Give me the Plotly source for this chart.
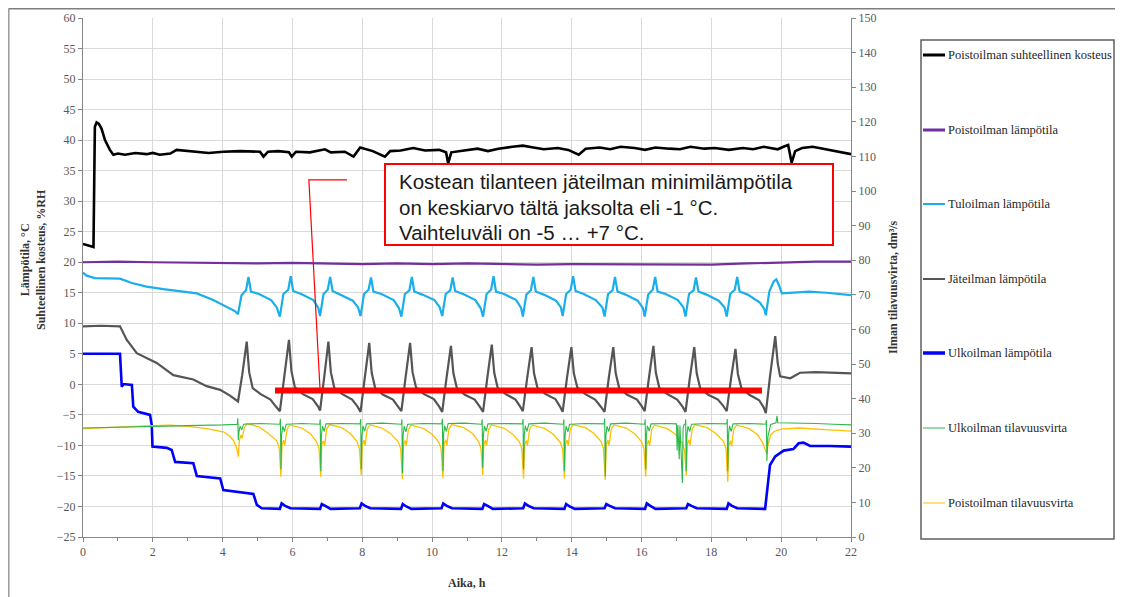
import plotly.graph_objects as go

# ---------------- DATA ----------------
x_range = [0, 22]
y_left_range = [-25, 60]
y_right_range = [0, 150]

names = [
    "Poistoilman suhteellinen kosteus",
    "Poistoilman lämpötila",
    "Tuloilman lämpötila",
    "Jäteilman lämpötila",
    "Ulkoilman lämpötila",
    "Ulkoilman tilavuusvirta",
    "Poistoilman tilavuusvirta",
]

# Poistoilman suhteellinen kosteus (%RH, left axis)
rh_t = [0, 0.30, 0.34, 0.39, 0.45, 0.53, 0.63, 0.77, 0.87, 1.0,
        1.2, 1.5, 1.82, 2.0, 2.2, 2.5, 2.68, 3.0, 3.3, 3.6,
        4.02, 4.5, 5.07, 5.17, 5.3, 5.6, 5.9, 5.98, 6.1, 6.5,
        6.93, 7.1, 7.5, 7.75, 7.94, 8.3, 8.65, 8.8, 9.1, 9.46,
        9.8, 10.2, 10.4, 10.46, 10.55, 10.9, 11.3, 11.6, 11.9, 12.3,
        12.6, 12.9, 13.2, 13.6, 13.9, 14.2, 14.4, 14.8, 15.1, 15.4,
        15.8, 16.1, 16.4, 16.8, 17.1, 17.4, 17.8, 18.1, 18.5, 18.9,
        19.2, 19.5, 19.9, 20.1, 20.2, 20.3, 20.4, 20.6, 20.9, 21.2,
        21.5, 21.8, 22.0]
rh_v = [23.0, 22.5, 42.2, 42.9, 42.7, 41.9, 40.0, 38.4, 37.6, 37.8,
        37.6, 37.9, 37.7, 37.9, 37.6, 37.8, 38.4, 38.2, 38.0, 37.9,
        38.1, 38.2, 38.1, 37.3, 38.1, 38.2, 38.0, 37.3, 38.1, 38.0,
        38.5, 38.0, 38.1, 37.3, 38.8, 38.2, 37.3, 38.2, 38.3, 38.7,
        38.3, 38.4, 38.0, 36.2, 38.0, 38.3, 38.6, 38.2, 38.6, 38.9,
        39.1, 38.8, 38.5, 38.7, 38.4, 37.6, 38.6, 38.8, 38.5, 38.9,
        38.7, 38.4, 38.8, 38.6, 38.5, 38.9, 38.6, 38.7, 38.4, 38.7,
        38.5, 38.9, 38.5, 39.0, 39.2, 36.3, 38.2, 38.7, 38.9, 38.6,
        38.3, 37.9, 37.7]

# Poistoilman lämpötila
exh_t = [0, 1, 2, 3, 4, 5, 6, 7, 8, 9, 10, 11, 12, 13, 14, 15, 16, 17, 18, 19, 20, 21, 22]
exh_v = [20.0, 20.1, 20.0, 19.9, 19.9, 19.8, 19.9, 19.8, 19.7, 19.8, 19.7, 19.8,
         19.7, 19.6, 19.7, 19.7, 19.6, 19.7, 19.6, 19.8, 20.0, 20.1, 20.1]

# Tuloilman lämpötila
sup_t = [0, 0.10, 0.34, 0.70, 1.06, 1.40, 1.82, 2.30, 2.78, 3.26, 3.73, 4.12, 4.35,
         4.44, 4.54, 4.67, 4.74, 4.81, 5.04, 5.39, 5.55,
         5.64, 5.74, 5.88, 5.95, 6.02, 6.25, 6.60, 6.74,
         6.79, 6.89, 7.01, 7.08, 7.15, 7.38, 7.73, 7.88,
         7.95, 8.05, 8.18, 8.25, 8.32, 8.55, 8.90, 9.05,
         9.12, 9.22, 9.35, 9.42, 9.49, 9.72, 10.07, 10.22,
         10.29, 10.39, 10.52, 10.59, 10.66, 10.89, 11.24, 11.39,
         11.46, 11.56, 11.69, 11.76, 11.83, 12.06, 12.41, 12.55,
         12.60, 12.70, 12.83, 12.90, 12.97, 13.20, 13.55, 13.69,
         13.74, 13.84, 13.97, 14.04, 14.11, 14.34, 14.69, 14.88,
         14.94, 15.04, 15.17, 15.24, 15.31, 15.54, 15.89, 16.04,
         16.09, 16.19, 16.32, 16.39, 16.46, 16.69, 17.04, 17.20,
         17.26, 17.36, 17.49, 17.56, 17.63, 17.86, 18.21, 18.38,
         18.44, 18.54, 18.67, 18.74, 18.81, 19.04, 19.39, 19.52,
         19.56, 19.66, 19.78, 19.86, 19.94, 20.02, 20.30, 20.80, 21.30, 21.70, 22.0]
sup_v = [18.3, 17.8, 17.4, 17.4, 17.3, 16.6, 16.0, 15.6, 15.2, 14.9, 13.8, 12.7, 12.0,
         11.5, 14.6, 15.4, 17.6, 15.2, 14.8, 13.8, 12.6,
         11.1, 14.8, 15.5, 17.7, 15.3, 14.8, 13.8, 12.5,
         11.2, 14.8, 15.5, 17.6, 15.3, 14.7, 13.7, 12.6,
         11.2, 14.8, 15.5, 17.5, 15.2, 14.8, 13.8, 12.5,
         11.1, 14.8, 15.4, 17.6, 15.2, 14.7, 13.8, 12.6,
         11.2, 14.8, 15.4, 17.5, 15.3, 14.8, 13.8, 12.5,
         11.1, 14.8, 15.5, 17.7, 15.2, 14.8, 13.8, 12.5,
         11.1, 14.7, 15.4, 17.6, 15.2, 14.7, 13.7, 12.6,
         11.2, 14.8, 15.5, 17.7, 15.3, 14.8, 13.8, 12.6,
         11.1, 14.8, 15.4, 17.6, 15.2, 14.7, 13.7, 12.5,
         11.1, 14.7, 15.5, 17.6, 15.2, 14.8, 13.8, 12.6,
         11.1, 14.8, 15.4, 17.5, 15.2, 14.7, 13.7, 12.6,
         11.1, 14.8, 15.5, 17.6, 15.2, 14.7, 13.4, 12.3,
         11.3, 15.2, 16.8, 17.2, 16.2, 14.9, 15.0, 15.2, 15.0, 14.8, 14.6]

# Jäteilman lämpötila
waste_t = [0, 0.5, 1.06, 1.25, 1.54, 1.82, 2.11, 2.59, 3.16, 3.54, 3.93, 4.20,
           4.44, 4.56, 4.69, 4.76, 4.86, 5.09, 5.37, 5.52,
           5.64, 5.76, 5.90, 5.97, 6.07, 6.30, 6.58, 6.73,
           6.79, 6.91, 7.03, 7.10, 7.20, 7.43, 7.71, 7.86,
           7.95, 8.07, 8.20, 8.27, 8.37, 8.60, 8.88, 9.03,
           9.12, 9.24, 9.37, 9.44, 9.54, 9.77, 10.05, 10.20,
           10.29, 10.41, 10.54, 10.61, 10.71, 10.94, 11.22, 11.37,
           11.46, 11.58, 11.71, 11.78, 11.88, 12.11, 12.39, 12.52,
           12.60, 12.72, 12.85, 12.92, 13.02, 13.25, 13.53, 13.66,
           13.74, 13.86, 13.99, 14.06, 14.16, 14.39, 14.67, 14.84,
           14.94, 15.06, 15.19, 15.26, 15.36, 15.59, 15.87, 16.01,
           16.09, 16.21, 16.34, 16.41, 16.51, 16.74, 17.02, 17.18,
           17.26, 17.38, 17.51, 17.58, 17.68, 17.91, 18.19, 18.35,
           18.44, 18.56, 18.69, 18.76, 18.86, 19.09, 19.37, 19.50,
           19.56, 19.68, 19.83, 19.90, 19.97, 20.26, 20.54, 21.0, 21.5, 22.0]
waste_v = [9.5, 9.6, 9.5, 7.3, 5.1, 4.3, 3.5, 1.5, 0.8, -0.3, -0.9, -1.8,
           -2.8, 1.5, 7.0, 2.0, -0.6, -1.6, -2.5, -3.6,
           -4.4, 1.0, 7.3, 2.2, -0.5, -1.6, -2.4, -3.6,
           -4.3, 1.2, 7.0, 2.0, -0.6, -1.6, -2.5, -3.6,
           -4.5, 1.0, 6.8, 1.9, -0.6, -1.7, -2.5, -3.7,
           -4.4, 1.1, 6.8, 2.0, -0.5, -1.6, -2.4, -3.6,
           -4.5, 0.9, 6.3, 1.8, -0.6, -1.7, -2.5, -3.7,
           -4.5, 1.0, 6.5, 1.9, -0.6, -1.6, -2.5, -3.6,
           -4.4, 0.9, 6.1, 1.8, -0.6, -1.6, -2.4, -3.6,
           -4.5, 0.9, 6.1, 1.8, -0.5, -1.6, -2.5, -3.7,
           -4.5, 1.0, 6.1, 1.8, -0.6, -1.7, -2.5, -3.6,
           -4.4, 1.0, 6.3, 1.9, -0.6, -1.6, -2.5, -3.7,
           -4.5, 0.9, 6.1, 1.8, -0.6, -1.7, -2.5, -3.6,
           -4.4, 0.8, 5.8, 1.7, -0.6, -1.7, -2.6, -3.8,
           -4.7, 1.3, 7.9, 3.5, 1.3, 1.0, 1.9, 2.0, 1.9, 1.8]

# Ulkoilman lämpötila
out_t = [0, 0.5, 1.06, 1.11, 1.16, 1.40, 1.44, 1.58, 1.92, 1.97, 1.99, 2.40, 2.54,
         2.64, 3.16, 3.26, 3.93, 4.02, 4.40, 4.88, 4.98, 5.12,
         5.64, 5.69, 5.79, 5.94,
         6.79, 6.84, 6.94, 7.09,
         7.93, 7.98, 8.08, 8.23,
         9.11, 9.16, 9.26, 9.41,
         10.27, 10.32, 10.42, 10.57,
         11.44, 11.49, 11.59, 11.74,
         12.61, 12.66, 12.76, 12.91,
         13.79, 13.84, 13.94, 14.09,
         14.94, 14.99, 15.09, 15.24,
         16.10, 16.15, 16.25, 16.40,
         17.28, 17.33, 17.43, 17.58,
         18.44, 18.49, 18.59, 18.74,
         19.54, 19.62, 19.68, 19.83, 20.07, 20.35, 20.50, 20.64, 20.83, 21.40, 22.0]
out_v = [5.0, 5.0, 5.0, -0.4, 0.05, -0.1, -3.65, -4.5, -5.0, -6.7, -10.2, -10.4, -10.75,
         -12.7, -12.9, -15.0, -15.4, -17.3, -17.6, -17.95, -19.75, -20.3,
         -20.4, -19.5, -19.9, -20.3,
         -20.4, -19.6, -19.9, -20.4,
         -20.3, -19.5, -19.9, -20.3,
         -20.4, -19.6, -20.0, -20.4,
         -20.3, -19.5, -19.9, -20.3,
         -20.4, -19.6, -19.9, -20.4,
         -20.3, -19.5, -19.9, -20.3,
         -20.4, -19.6, -20.0, -20.4,
         -20.3, -19.6, -19.9, -20.3,
         -20.4, -19.5, -19.9, -20.4,
         -20.3, -19.6, -19.9, -20.3,
         -20.4, -19.5, -19.9, -20.3,
         -20.4, -16.5, -13.2, -11.8, -10.85, -10.6, -9.65, -9.55, -10.1, -10.1, -10.2]

# Ulkoilman tilavuusvirta (dm3/s, right axis)
oflow_t = [0, 1.0, 2.0, 3.0, 4.0, 4.40,
           4.42, 4.435, 4.45, 4.47, 4.50, 4.55, 4.60, 5.05,
           5.64, 5.655, 5.67, 5.69, 5.72, 5.77, 5.82, 6.27,
           6.78, 6.795, 6.81, 6.83, 6.86, 6.91, 6.96, 7.41,
           7.94, 7.955, 7.97, 7.99, 8.02, 8.07, 8.12, 8.57,
           9.12, 9.135, 9.15, 9.17, 9.20, 9.25, 9.30, 9.75,
           10.28, 10.295, 10.31, 10.33, 10.36, 10.41, 10.46, 10.91,
           11.42, 11.435, 11.45, 11.47, 11.50, 11.55, 11.60, 12.05,
           12.59, 12.605, 12.62, 12.64, 12.67, 12.72, 12.77, 13.22,
           13.76, 13.775, 13.79, 13.81, 13.84, 13.89, 13.94, 14.39,
           14.93, 14.945, 14.96, 14.98, 15.01, 15.06, 15.11, 15.56,
           16.09, 16.105, 16.12, 16.14, 16.17, 16.22, 16.27, 16.72,
           17.00, 17.02, 17.04, 17.08, 17.10, 17.17, 17.19, 17.22,
           17.25, 17.265, 17.28, 17.30, 17.33, 17.38, 17.43, 17.88,
           18.44, 18.455, 18.47, 18.49, 18.52, 18.57, 18.62, 19.07,
           19.56, 19.575, 19.59, 19.62, 19.70, 19.85, 19.88, 19.90, 20.5, 21.0, 21.5, 22.0]
oflow_v = [31.5, 31.8, 32.0, 32.2, 32.4, 32.5,
           32.6, 34.3, 28.0, 30.5, 32.0, 31.0, 32.6, 32.8,
           32.6, 34.2, 19.5, 29.5, 32.0, 30.5, 32.6, 32.8,
           32.6, 34.0, 19.0, 29.5, 32.0, 30.5, 32.7, 32.8,
           32.7, 34.1, 19.5, 29.0, 32.1, 30.6, 32.7, 32.9,
           32.6, 34.0, 18.5, 29.5, 32.0, 30.4, 32.6, 32.8,
           32.7, 34.2, 19.0, 29.6, 32.1, 30.5, 32.8, 32.9,
           32.6, 34.0, 20.0, 29.5, 32.0, 30.6, 32.7, 32.8,
           32.7, 34.1, 19.5, 29.4, 32.1, 30.5, 32.7, 32.9,
           32.6, 34.0, 19.0, 29.5, 32.0, 30.4, 32.6, 32.8,
           32.7, 34.2, 17.5, 29.5, 32.0, 30.5, 32.7, 32.9,
           32.6, 34.0, 19.5, 29.6, 32.1, 30.6, 32.7, 32.8,
           32.7, 25.0, 32.4, 22.5, 32.2, 15.6, 31.5, 32.5,
           32.6, 34.0, 19.0, 29.5, 32.0, 30.5, 32.6, 32.8,
           32.7, 34.1, 19.0, 29.5, 32.1, 30.5, 32.7, 32.8,
           32.6, 33.8, 22.0, 29.0, 32.5, 33.0, 35.0, 33.0, 33.0, 32.8, 32.6, 32.4]

# Poistoilman tilavuusvirta (dm3/s, right axis)
eflow_t = [0, 0.5, 1.0, 1.5, 2.0, 2.5, 3.0, 3.5, 3.8, 4.02, 4.20, 4.31, 4.40,
           4.45, 4.48, 4.53, 4.56, 4.62, 4.70, 5.05, 5.30, 5.55, 5.62,
           5.67, 5.70, 5.75, 5.78, 5.84, 5.92, 6.27, 6.52, 6.69, 6.76,
           6.81, 6.84, 6.89, 6.92, 6.98, 7.06, 7.41, 7.66, 7.85, 7.92,
           7.97, 8.00, 8.05, 8.08, 8.14, 8.22, 8.57, 8.82, 9.03, 9.10,
           9.15, 9.18, 9.23, 9.26, 9.32, 9.40, 9.75, 10.00, 10.19, 10.26,
           10.31, 10.34, 10.39, 10.42, 10.48, 10.56, 10.91, 11.16, 11.33, 11.40,
           11.45, 11.48, 11.53, 11.56, 11.62, 11.70, 12.05, 12.30, 12.50, 12.57,
           12.62, 12.65, 12.70, 12.73, 12.79, 12.87, 13.22, 13.47, 13.67, 13.74,
           13.79, 13.82, 13.87, 13.90, 13.96, 14.04, 14.39, 14.64, 14.84, 14.91,
           14.96, 14.99, 15.04, 15.07, 15.13, 15.21, 15.56, 15.81, 16.00, 16.07,
           16.12, 16.15, 16.20, 16.23, 16.29, 16.37, 16.72, 16.97, 17.16, 17.23,
           17.28, 17.31, 17.36, 17.39, 17.45, 17.53, 17.88, 18.13, 18.35, 18.42,
           18.47, 18.50, 18.55, 18.58, 18.64, 18.72, 19.07, 19.32, 19.47, 19.54,
           19.59, 19.62, 19.70, 19.80, 20.00, 20.50, 21.00, 21.50, 22.00]
eflow_v = [31.3, 31.6, 31.8, 32.0, 32.2, 32.3, 32.0, 31.4, 30.8, 30.4, 29.2, 27.9, 25.8,
           23.2, 28.0, 29.5, 28.5, 31.5, 32.8, 31.8, 30.0, 27.8, 25.8,
           17.4, 26.5, 28.0, 26.5, 31.0, 32.4, 31.5, 29.8, 27.5, 25.6,
           17.4, 26.8, 27.8, 26.3, 31.2, 32.5, 31.6, 29.9, 27.6, 25.4,
           17.8, 26.6, 28.0, 26.4, 31.1, 32.4, 31.5, 29.8, 27.5, 25.5,
           16.8, 26.5, 27.9, 26.3, 31.0, 32.3, 31.4, 29.7, 27.4, 25.4,
           17.0, 26.7, 28.1, 26.5, 31.2, 32.5, 31.6, 29.9, 27.6, 25.6,
           17.9, 26.6, 28.0, 26.4, 31.1, 32.4, 31.5, 29.8, 27.5, 25.5,
           16.9, 26.5, 27.9, 26.3, 31.0, 32.3, 31.4, 29.7, 27.4, 25.4,
           16.9, 26.7, 28.0, 26.5, 31.2, 32.5, 31.6, 29.9, 27.6, 25.5,
           16.5, 26.6, 28.0, 26.4, 31.1, 32.4, 31.5, 29.8, 27.5, 25.5,
           17.4, 26.5, 27.9, 26.3, 31.0, 32.3, 31.4, 29.7, 27.2, 25.2,
           17.9, 26.7, 28.1, 26.5, 31.2, 32.5, 31.6, 29.9, 27.6, 25.6,
           16.0, 26.4, 27.8, 26.2, 31.0, 32.3, 31.4, 29.6, 27.3, 25.3,
           24.0, 26.5, 29.5, 30.5, 31.2, 31.5, 31.3, 30.9, 30.6]

min_avg = -1          # keskiarvo, °C
min_avg_span = [5.5, 19.45]

note_lines = [
    "Kostean tilanteen jäteilman minimilämpötila",
    "on keskiarvo tältä jaksolta eli -1 °C.",
    "Vaihteluväli on -5 … +7 °C.",
]

# ---------------- STYLE ----------------
colors = ["#000000", "#7030A0", "#1AAFEA", "#555555", "#0000FF", "#2DB84C", "#FFC000"]
widths = [2.6, 2.2, 2.2, 2.2, 2.6, 1.1, 1.3]
legend_widths = [3, 3, 2, 2, 3.5, 1, 1]
axes_of = ["y", "y", "y", "y", "y", "y2", "y2"]
series = [(rh_t, rh_v), (exh_t, exh_v), (sup_t, sup_v), (waste_t, waste_v),
          (out_t, out_v), (oflow_t, oflow_v), (eflow_t, eflow_v)]
draw_order = [6, 5, 4, 3, 2, 1, 0]

serif = "Liberation Serif"
tick_col = "#595959"
axis_col = "#868686"
grid_col = "#D9D9D9"

fig = go.Figure()
for i in draw_order:
    t, v = series[i]
    fig.add_trace(go.Scatter(
        x=t, y=v, name=names[i], mode="lines", yaxis=axes_of[i],
        line=dict(color=colors[i], width=widths[i]), showlegend=False,
    ))

# page body adds an 8px offset; figure is sized so the plot lands on the
# reference's screen coordinates (plot area 83..851 x 18..537)
OFF = 8
W, H = 1123 - OFF, 597 - OFF
L, T = 83 - OFF, 18 - OFF
pw, ph = 768, 519
R, B = W - L - pw, H - T - ph


def px(xs):
    return (xs - OFF - L) / pw


def py(ys):
    return (T + ph - (ys - OFF)) / ph


shapes = []
annotations = []

# outer frame (top + left)
shapes.append(dict(type="line", xref="paper", yref="paper", x0=px(8.5), x1=px(1123),
                   y0=py(8.8), y1=py(8.8), line=dict(color="#7F7F7F", width=1.5)))
shapes.append(dict(type="line", xref="paper", yref="paper", x0=px(8.8), x1=px(8.8),
                   y0=py(8.8), y1=py(597), line=dict(color="#9A9A9A", width=1.5)))

# legend box
shapes.append(dict(type="rect", xref="paper", yref="paper", x0=px(921), x1=px(1114),
                   y0=py(539), y1=py(40), line=dict(color="#5F5F5F", width=1.5)))
legend_y = [55, 130, 204, 279, 353, 428, 503]
for i, name in enumerate(names):
    shapes.append(dict(type="line", xref="paper", yref="paper", x0=px(923), x1=px(945),
                       y0=py(legend_y[i]), y1=py(legend_y[i]),
                       line=dict(color=colors[i], width=legend_widths[i])))
    annotations.append(dict(xref="paper", yref="paper", x=px(946), y=py(legend_y[i]),
                            xanchor="left", yanchor="middle", text=name, showarrow=False,
                            font=dict(family=serif, size=12.5, color="#262626")))

# red marker line for average minimum temperature
shapes.append(dict(type="line", xref="x", yref="y", x0=min_avg_span[0], x1=min_avg_span[1],
                   y0=min_avg, y1=min_avg, line=dict(color="#FF0000", width=6), layer="above"))
# connector
shapes.append(dict(type="path", xref="x", yref="y",
                   path="M 7.56 33.5 L 6.47 33.5 L 6.79 -0.8",
                   line=dict(color="#FF0000", width=1.2), layer="above"))
# text box
shapes.append(dict(type="rect", xref="paper", yref="paper", x0=px(385), x1=px(833),
                   y0=py(245), y1=py(164), fillcolor="white",
                   line=dict(color="#FF0000", width=2), layer="above"))
for k, (txt, yy) in enumerate(zip(note_lines, [181, 207, 232])):
    annotations.append(dict(xref="paper", yref="paper", x=px(397), y=py(yy),
                            xanchor="left", yanchor="middle", text=txt, showarrow=False,
                            font=dict(family="Liberation Sans", size=20.5, color="#1A1A1A")))

# axis titles
annotations.append(dict(xref="paper", yref="paper", x=px(33), y=py(260), textangle=-90,
                        text="<b>Lämpötila, °C</b><br><b>Suhteellinen kosteus, %RH</b>",
                        showarrow=False, xanchor="center", yanchor="middle",
                        font=dict(family=serif, size=12, color="#333333")))
annotations.append(dict(xref="paper", yref="paper", x=px(893), y=py(287), textangle=-90,
                        text="<b>Ilman tilavuusvirta, dm³/s</b>",
                        showarrow=False, xanchor="center", yanchor="middle",
                        font=dict(family=serif, size=12, color="#333333")))
annotations.append(dict(xref="paper", yref="paper", x=px(467), y=py(583),
                        text="<b>Aika, h</b>", showarrow=False, xanchor="center",
                        yanchor="middle", font=dict(family=serif, size=12, color="#333333")))

fig.update_layout(
    width=W, height=H, margin=dict(l=L, r=R, t=T, b=B, autoexpand=False),
    paper_bgcolor="white", plot_bgcolor="white", showlegend=False,
    font=dict(family=serif, size=12, color=tick_col),
    xaxis=dict(range=x_range, dtick=2, tick0=0, showgrid=True, gridcolor=grid_col,
               gridwidth=1, showline=True, linecolor=axis_col, linewidth=1,
               ticks="outside", ticklen=4, tickcolor=axis_col, zeroline=False,
               tickfont=dict(family=serif, size=12, color=tick_col),
               minor=dict(dtick=1, ticks="outside", ticklen=3, tickcolor=axis_col, showgrid=False)),
    yaxis=dict(range=y_left_range, dtick=5, tick0=0, showgrid=True, gridcolor=grid_col,
               gridwidth=1, showline=True, linecolor=axis_col, linewidth=1,
               ticks="outside", ticklen=4, tickcolor=axis_col, zeroline=False,
               tickfont=dict(family=serif, size=12, color=tick_col)),
    yaxis2=dict(range=y_right_range, dtick=10, tick0=0, overlaying="y", side="right",
                showgrid=False, showline=True, linecolor=axis_col, linewidth=1,
                ticks="outside", ticklen=4, tickcolor=axis_col, zeroline=False,
                tickfont=dict(family=serif, size=12, color=tick_col)),
    shapes=shapes, annotations=annotations,
)

fig.write_html("out.html")
